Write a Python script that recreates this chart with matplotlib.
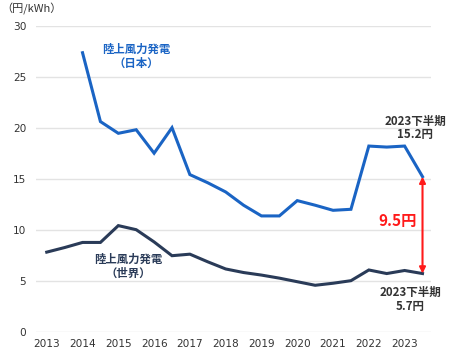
import matplotlib
matplotlib.use("Agg")
import matplotlib.pyplot as plt

plt.rcParams['font.family'] = ['Noto Sans CJK JP', 'DejaVu Sans']

years_jp = [2014.0, 2014.5, 2015.0, 2015.5, 2016.0, 2016.5, 2017.0, 2017.5, 2018.0, 2018.5,
            2019.0, 2019.5, 2020.0, 2020.5, 2021.0, 2021.5, 2022.0, 2022.5, 2023.0, 2023.5]
japan = [27.35, 20.6, 19.45, 19.8, 17.5, 20.0, 15.4, 14.6, 13.7, 12.4,
         11.35, 11.35, 12.85, 12.4, 11.9, 12.0, 18.2, 18.1, 18.2, 15.2]

years_w = [2013.0, 2013.5, 2014.0, 2014.5, 2015.0, 2015.5, 2016.0, 2016.5, 2017.0, 2017.5, 2018.0,
           2018.5, 2019.0, 2019.5, 2020.0, 2020.5, 2021.0, 2021.5, 2022.0, 2022.5, 2023.0, 2023.5]
world = [7.8, 8.25, 8.75, 8.75, 10.4, 10.0, 8.8, 7.45, 7.6, 6.85, 6.15,
         5.8, 5.55, 5.25, 4.9, 4.55, 4.75, 5.0, 6.05, 5.7, 6.0, 5.7]

x_ticks = list(range(2013, 2024))
y_ticks = [0, 5, 10, 15, 20, 25, 30]

blue = '#1a64c4'
navy = '#2a3b58'
red = '#ff1a1a'
txt = '#333333'

fig = plt.figure(figsize=(4.5, 3.52), dpi=100)
ax = fig.add_axes([0.08, 0.0577, 0.878, 0.8693])
ax.set_xlim(2012.70, 2023.74)
ax.set_ylim(0, 30)

ax.plot(years_jp, japan, color=blue, lw=2.2, solid_joinstyle='miter', zorder=3)
ax.plot(years_w, world, color=navy, lw=2.2, solid_joinstyle='miter', zorder=3)

for s in ax.spines.values():
    s.set_visible(False)
ax.set_yticks(y_ticks)
ax.set_xticks(x_ticks)
ax.grid(axis='y', color='#e3e3e3', lw=1.0)
ax.set_axisbelow(True)
ax.tick_params(length=0, colors=txt, pad=7)
ax.tick_params(axis='x', pad=5)
for lab in ax.get_xticklabels() + ax.get_yticklabels():
    lab.set_family('DejaVu Sans')
    lab.set_fontsize(7.6)

fig.text(0.003, 0.975, '（円/kWh）', fontsize=8, color=txt, ha='left', va='center')

ax.text(2015.5, 27.0, '陸上風力発電\n（日本）', color=blue, fontsize=8.2, fontweight='bold',
        ha='center', va='center', linespacing=1.1)
ax.text(2015.28, 6.44, '陸上風力発電\n（世界）', color=navy, fontsize=8.2, fontweight='bold',
        ha='center', va='center', linespacing=1.1)

ax.text(2023.29, 19.97, '2023下半期\n15.2円', color=txt, fontsize=8.3, fontweight='bold',
        ha='center', va='center', linespacing=1.1)
ax.text(2023.15, 3.18, '2023下半期\n5.7円', color=txt, fontsize=8.3, fontweight='bold',
        ha='center', va='center', linespacing=1.1)

ax.annotate('', xy=(2023.5, 15.2), xytext=(2023.5, 5.7),
            arrowprops=dict(arrowstyle='<|-|>', color=red, lw=1.5,
                            mutation_scale=9, shrinkA=0, shrinkB=0), zorder=4)
ax.text(2022.8, 10.9, '9.5円', color=red, fontsize=11, fontweight='bold',
        ha='center', va='center')

fig.savefig('out.png', dpi=100, facecolor='white')
